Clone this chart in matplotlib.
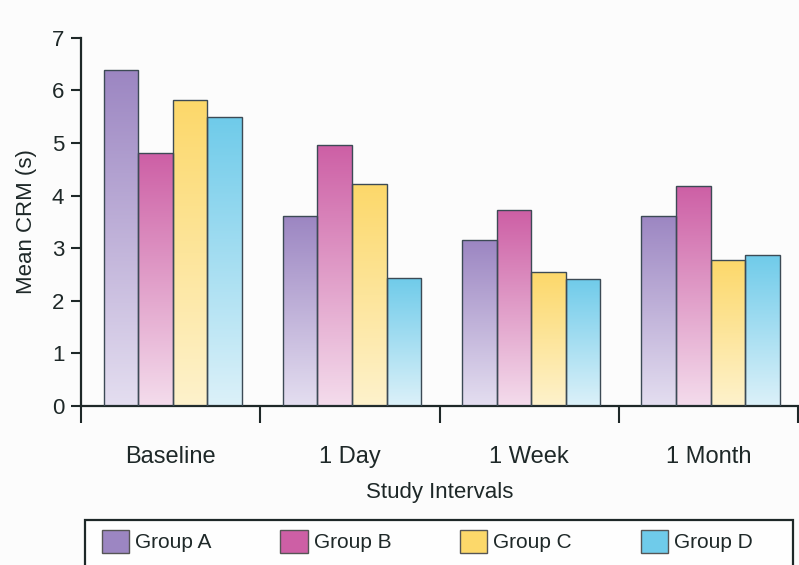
import numpy as np
import matplotlib
matplotlib.use("Agg")
import matplotlib.pyplot as plt
from matplotlib.colors import LinearSegmentedColormap
from matplotlib.patches import Patch, Rectangle

plt.rcParams['font.family'] = ['Liberation Sans', 'DejaVu Sans']

categories = ["Baseline", "1 Day", "1 Week", "1 Month"]
groups = ["Group A", "Group B", "Group C", "Group D"]
group_a = [6.38, 3.61, 3.15, 3.62]
group_b = [4.81, 4.97, 3.72, 4.19]
group_c = [5.81, 4.21, 2.54, 2.78]
group_d = [5.49, 2.44, 2.42, 2.87]
series = [group_a, group_b, group_c, group_d]

top_colors = ["#9c86c2", "#cd5fa5", "#fcd86a", "#6fcbea"]
bottom_colors = ["#e4def0", "#f4dcec", "#fef2cc", "#dcf1f9"]
edge = "#3c4a55"
text_color = "#1e2828"

W, H = 799, 565
fig = plt.figure(figsize=(W/100, H/100), dpi=100, facecolor="#fcfcfc")
ax = fig.add_axes([81/W, 1-406/H, (798-81)/W, (406-37.7)/H])
ax.set_facecolor("#fcfcfc")

x = np.arange(len(categories))
width = 0.193
offsets = (np.arange(4) - 1.5) * width + 0.012
grad = np.linspace(0, 1, 256).reshape(-1, 1)

for i, vals in enumerate(series):
    bars = ax.bar(x + offsets[i], vals, width, facecolor="none",
                  edgecolor=edge, linewidth=1.0, zorder=3)
    cmap = LinearSegmentedColormap.from_list(f"g{i}", [bottom_colors[i], top_colors[i]])
    for rect in bars:
        bb = rect.get_bbox()
        im = ax.imshow(grad, extent=[bb.x0, bb.x1, bb.y0, bb.y1], origin="lower",
                       aspect="auto", cmap=cmap, zorder=2, interpolation="bilinear")
        im.set_clip_path(rect)

ax.set_aspect("auto")
ax.set_xlim(-0.5, 3.5)
ax.set_ylim(0, 7)

for s in ["top", "right"]:
    ax.spines[s].set_visible(False)
for s in ["left", "bottom"]:
    ax.spines[s].set_color(text_color)
    ax.spines[s].set_linewidth(1.6)

ax.set_yticks(range(0, 8))
ax.tick_params(axis="y", direction="out", length=7, width=1.5, colors=text_color,
               labelsize=16, pad=5)
ax.set_xticks(np.arange(-0.5, 4, 1.0))
ax.set_xticklabels([])
ax.tick_params(axis="x", which="major", direction="out", length=12, width=1.5,
               colors=text_color)
ax.set_xticks(x, minor=True)
ax.set_xticklabels(categories, minor=True)
ax.tick_params(axis="x", which="minor", length=0, labelsize=17, pad=29,
               labelcolor=text_color)

ax.set_ylabel("Mean CRM (s)", fontsize=16, color=text_color)
ax.yaxis.set_label_coords(-0.062, 0.5)
ax.set_xlabel("Study Intervals", fontsize=16, color=text_color)
ax.xaxis.set_label_coords(0.5007, -0.206)

# legend frame (extends past the bottom edge, as in the reference)
frame = Rectangle((85/W, -0.05), (793-85)/W, 0.05 + 1-520/H,
                  transform=fig.transFigure, facecolor="#fefefe",
                  edgecolor=text_color, linewidth=1.6, zorder=1)
fig.patches.append(frame)

handles = [Patch(facecolor=top_colors[i], edgecolor="#555555", linewidth=1.0)
           for i in range(4)]
leg = fig.legend(handles, groups, loc="upper left", ncol=4,
                 bbox_to_anchor=(102/W, 1-530/H),
                 bbox_transform=fig.transFigure, borderaxespad=0,
                 fontsize=15, handlelength=1.3, handleheight=1.3,
                 handletextpad=0.3, borderpad=0, columnspacing=3.3,
                 frameon=False)
leg.set_zorder(2)
for t in leg.get_texts():
    t.set_color(text_color)

fig.savefig("out.png", dpi=100, facecolor=fig.get_facecolor())
